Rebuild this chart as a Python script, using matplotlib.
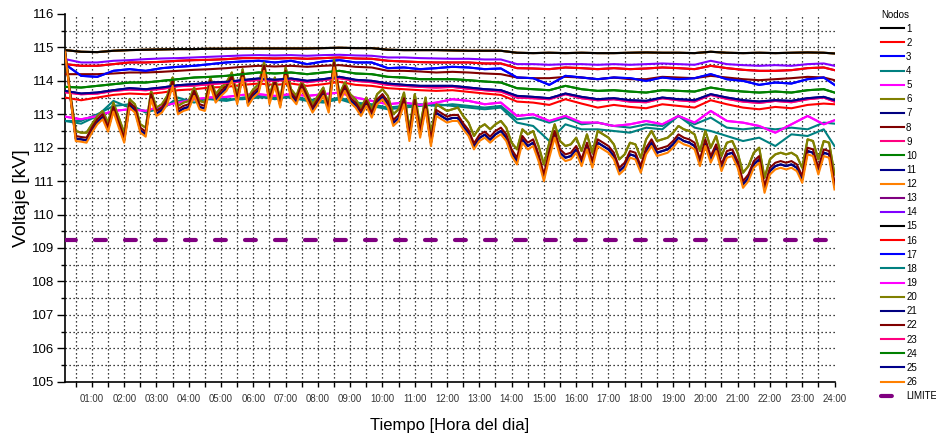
import numpy as np
import matplotlib
matplotlib.use("Agg")
import matplotlib.pyplot as plt

plt.rcParams['font.family'] = ['Liberation Sans', 'DejaVu Sans']

# Sampling instants in minutes after midnight
minutes_fine = np.arange(10, 1441, 10)                     # 10-minute records
minutes_coarse = np.r_[np.arange(10, 1421, 30), 1440]      # 30-minute records

# ---- node voltages [kV], 10-minute records (feeder end nodes) ----
v_orange = [114.85, 113.5, 112.2, 112.18, 112.15, 112.45, 112.7, 112.85, 112.48, 113.08,
            112.6, 112.15, 113.2, 113.05, 112.45, 112.33, 113.45, 112.95, 113.05, 113.3,
            113.85, 113.0, 113.1, 113.15, 113.55, 113.15, 113.1, 113.85, 113.35, 113.55,
            113.7, 114.0, 113.3, 114.1, 113.25, 113.5, 113.65, 114.3, 113.3, 113.85,
            113.2, 114.15, 113.5, 113.3, 113.75, 113.4, 113.05, 113.3, 113.55, 113.05,
            114.4, 113.35, 113.7, 113.35, 113.2, 112.95, 113.25, 112.9, 113.3, 113.45,
            113.2, 112.65, 112.8, 113.3, 112.2, 113.25, 112.3, 113.15, 112.05, 112.95,
            112.85, 112.75, 112.8, 112.8, 112.55, 112.35, 111.95, 112.2, 112.3, 112.15,
            112.3, 112.4, 112.2, 111.75, 111.5, 112.15, 111.95, 112.05, 111.6, 111.0,
            111.7, 112.3, 111.75, 111.6, 111.65, 111.85, 111.45, 111.95, 111.4, 112.05,
            111.95, 111.85, 111.65, 111.2, 111.35, 111.7, 111.65, 111.25, 111.8, 112.05,
            111.75, 111.8, 111.85, 112.0, 112.2, 112.1, 112.05, 111.95, 111.45, 112.05,
            111.55, 111.9, 111.3, 111.7, 111.75, 111.4, 110.8, 111.0, 111.4, 111.55,
            110.65, 111.2, 111.35, 111.4, 111.35, 111.4, 111.3, 110.95, 111.8, 111.75,
            111.2, 111.75, 111.7, 110.75]

v_olive = [114.9, 113.6, 112.5, 112.45, 112.45, 112.7, 112.95, 113.1, 112.75, 113.35,
           112.9, 112.45, 113.45, 113.3, 112.7, 112.6, 113.7, 113.2, 113.3, 113.55,
           114.1, 113.25, 113.35, 113.4, 113.8, 113.4, 113.35, 114.1, 113.6, 113.8,
           113.95, 114.25, 113.55, 114.35, 113.5, 113.75, 113.9, 114.55, 113.55, 114.1,
           113.45, 114.4, 113.75, 113.55, 114.0, 113.65, 113.3, 113.55, 113.8, 113.3,
           114.65, 113.6, 113.95, 113.6, 113.45, 113.2, 113.5, 113.15, 113.6, 113.75,
           113.55, 113.0, 113.15, 113.65, 112.55, 113.6, 112.65, 113.5, 112.4, 113.3,
           113.2, 113.1, 113.15, 113.2, 112.95, 112.75, 112.35, 112.6, 112.7, 112.55,
           112.7, 112.8, 112.6, 112.15, 111.95, 112.55, 112.4, 112.5, 112.05, 111.5,
           112.15, 112.7, 112.2, 112.05, 112.1, 112.3, 111.9, 112.4, 111.85, 112.5,
           112.4, 112.3, 112.1, 111.65, 111.8, 112.15, 112.1, 111.7, 112.25, 112.5,
           112.2, 112.25, 112.3, 112.45, 112.65, 112.55, 112.5, 112.4, 111.9, 112.5,
           112.0, 112.35, 111.75, 112.15, 112.2, 111.85, 111.25, 111.45, 111.85, 112.0,
           111.1, 111.65, 111.8, 111.85, 111.8, 111.85, 111.75, 111.4, 112.25, 112.2,
           111.65, 112.2, 112.15, 111.2]

v_maroon_lo = [114.88, 113.55, 112.35, 112.32, 112.3, 112.6, 112.85, 113.0, 112.62, 113.22,
               112.75, 112.3, 113.35, 113.2, 112.6, 112.48, 113.6, 113.1, 113.2, 113.45,
               114.0, 113.15, 113.25, 113.3, 113.7, 113.3, 113.25, 114.0, 113.5, 113.7,
               113.85, 114.15, 113.45, 114.25, 113.4, 113.65, 113.8, 114.45, 113.45, 114.0,
               113.35, 114.3, 113.65, 113.45, 113.9, 113.55, 113.2, 113.45, 113.7, 113.2,
               114.55, 113.5, 113.85, 113.5, 113.35, 113.1, 113.4, 113.05, 113.45, 113.6,
               113.38, 112.83, 112.98, 113.48, 112.38, 113.43, 112.48, 113.33, 112.23, 113.13,
               113.03, 112.93, 112.98, 112.98, 112.73, 112.53, 112.13, 112.38, 112.48, 112.33,
               112.5, 112.6, 112.4, 111.95, 111.7, 112.35, 112.15, 112.25, 111.8, 111.2,
               111.9, 112.5, 111.95, 111.8, 111.85, 112.05, 111.65, 112.15, 111.6, 112.25,
               112.15, 112.05, 111.85, 111.4, 111.55, 111.9, 111.85, 111.45, 112.0, 112.25,
               111.95, 112.0, 112.05, 112.2, 112.4, 112.3, 112.25, 112.15, 111.65, 112.25,
               111.75, 112.1, 111.5, 111.9, 111.95, 111.6, 111.0, 111.2, 111.6, 111.75,
               110.85, 111.4, 111.55, 111.6, 111.55, 111.6, 111.5, 111.15, 112.0, 111.95,
               111.4, 111.95, 111.9, 110.95]

v_navy_lo = [114.86, 113.52, 112.27, 112.25, 112.22, 112.52, 112.77, 112.92, 112.55, 113.15,
             112.67, 112.22, 113.27, 113.12, 112.52, 112.4, 113.52, 113.02, 113.12, 113.37,
             113.92, 113.07, 113.17, 113.22, 113.62, 113.22, 113.17, 113.92, 113.42, 113.62,
             113.77, 114.07, 113.37, 114.17, 113.32, 113.57, 113.72, 114.37, 113.37, 113.92,
             113.27, 114.22, 113.57, 113.37, 113.82, 113.47, 113.12, 113.37, 113.62, 113.12,
             114.47, 113.42, 113.77, 113.42, 113.27, 113.02, 113.32, 112.97, 113.37, 113.52,
             113.29, 112.74, 112.89, 113.39, 112.29, 113.34, 112.39, 113.24, 112.14, 113.04,
             112.94, 112.84, 112.89, 112.89, 112.64, 112.44, 112.04, 112.29, 112.39, 112.24,
             112.4, 112.5, 112.3, 111.85, 111.6, 112.25, 112.05, 112.15, 111.7, 111.1,
             111.8, 112.4, 111.85, 111.7, 111.75, 111.95, 111.55, 112.05, 111.5, 112.15,
             112.05, 111.95, 111.75, 111.3, 111.45, 111.8, 111.75, 111.35, 111.9, 112.15,
             111.85, 111.9, 111.95, 112.1, 112.3, 112.2, 112.15, 112.05, 111.55, 112.15,
             111.65, 112.0, 111.4, 111.8, 111.85, 111.5, 110.9, 111.1, 111.5, 111.65,
             110.75, 111.3, 111.45, 111.5, 111.45, 111.5, 111.4, 111.05, 111.9, 111.85,
             111.3, 111.85, 111.8, 110.85]

# ---- node voltages [kV], 30-minute records ----
v_black = [114.92, 114.87, 114.86, 114.9, 114.92, 114.93, 114.94, 114.95, 114.95, 114.96,
           114.96, 114.97, 114.97, 114.97, 114.97, 114.97, 114.98, 114.99, 114.98, 114.98,
           114.93, 114.92, 114.92, 114.92, 114.91, 114.9, 114.9, 114.9, 114.84, 114.83,
           114.84, 114.83, 114.84, 114.83, 114.83, 114.84, 114.85, 114.84, 114.84, 114.83,
           114.87, 114.84, 114.83, 114.84, 114.83, 114.84, 114.85, 114.84, 114.82]

v_violet = [114.65, 114.55, 114.55, 114.6, 114.62, 114.65, 114.67, 114.68, 114.7, 114.72,
            114.74, 114.76, 114.77, 114.76, 114.77, 114.75, 114.77, 114.78, 114.76, 114.75,
            114.7, 114.7, 114.68, 114.67, 114.66, 114.66, 114.64, 114.64, 114.5, 114.5,
            114.48, 114.5, 114.5, 114.48, 114.5, 114.48, 114.5, 114.52, 114.5, 114.48,
            114.6, 114.5, 114.47, 114.45, 114.47, 114.45, 114.5, 114.52, 114.45]

v_red_hi = [114.5, 114.45, 114.45, 114.5, 114.55, 114.55, 114.57, 114.6, 114.62, 114.63,
            114.65, 114.68, 114.68, 114.67, 114.68, 114.66, 114.68, 114.7, 114.67, 114.66,
            114.6, 114.58, 114.56, 114.55, 114.55, 114.55, 114.52, 114.52, 114.38, 114.37,
            114.35, 114.4, 114.38, 114.35, 114.38, 114.35, 114.37, 114.4, 114.38, 114.35,
            114.45, 114.38, 114.33, 114.3, 114.3, 114.32, 114.38, 114.4, 114.32]

v_blue = [114.5, 114.15, 114.12, 114.3, 114.35, 114.3, 114.38, 114.42, 114.45, 114.5,
          114.55, 114.58, 114.6, 114.55, 114.6, 114.5, 114.58, 114.62, 114.55, 114.55,
          114.38, 114.4, 114.35, 114.38, 114.42, 114.4, 114.35, 114.37, 114.1, 114.08,
          113.88, 114.15, 114.1, 114.05, 114.1, 114.08, 114.0, 114.1, 114.05, 114.08,
          114.2, 114.05, 114.0, 113.88, 113.95, 113.92, 114.05, 114.1, 113.88]

v_maroon_hi = [114.2, 114.2, 114.2, 114.22, 114.25, 114.25, 114.27, 114.3, 114.33, 114.35,
               114.38, 114.42, 114.45, 114.43, 114.45, 114.42, 114.45, 114.47, 114.42, 114.4,
               114.3, 114.3, 114.28, 114.25, 114.27, 114.25, 114.22, 114.2, 114.1, 114.08,
               114.08, 114.12, 114.1, 114.05, 114.1, 114.05, 114.05, 114.12, 114.1, 114.08,
               114.15, 114.1, 114.05, 114.02, 114.05, 114.08, 114.12, 114.1, 114.02]

v_green = [113.82, 113.8, 113.85, 113.9, 113.95, 113.95, 114.0, 114.05, 114.1, 114.12,
           114.15, 114.2, 114.25, 114.22, 114.25, 114.2, 114.25, 114.3, 114.22, 114.2,
           114.12, 114.1, 114.05, 114.05, 114.05, 114.02, 113.98, 113.95, 113.78, 113.75,
           113.72, 113.85, 113.75, 113.7, 113.72, 113.68, 113.65, 113.72, 113.7, 113.68,
           113.8, 113.72, 113.68, 113.65, 113.68, 113.65, 113.72, 113.75, 113.65]

v_navy_hi = [113.7, 113.62, 113.65, 113.72, 113.78, 113.75, 113.8, 113.87, 113.9, 113.95,
             113.97, 114.02, 114.07, 114.03, 114.07, 114.0, 114.05, 114.12, 114.03, 114.0,
             113.92, 113.88, 113.85, 113.85, 113.85, 113.8, 113.75, 113.72, 113.55, 113.52,
             113.48, 113.62, 113.52, 113.45, 113.48, 113.42, 113.4, 113.5, 113.45, 113.42,
             113.6, 113.5, 113.42, 113.38, 113.42, 113.4, 113.48, 113.52, 113.42]

v_pink = [113.66, 113.6, 113.62, 113.7, 113.74, 113.72, 113.76, 113.84, 113.86, 113.9,
          113.94, 113.98, 114.03, 114.0, 114.04, 113.96, 114.02, 114.08, 114.0, 113.96,
          113.88, 113.85, 113.82, 113.8, 113.82, 113.76, 113.72, 113.68, 113.5, 113.48,
          113.45, 113.6, 113.48, 113.42, 113.45, 113.38, 113.36, 113.48, 113.42, 113.38,
          113.58, 113.46, 113.38, 113.34, 113.4, 113.36, 113.45, 113.5, 113.38]

v_red_lo = [113.5, 113.42, 113.5, 113.58, 113.62, 113.6, 113.65, 113.72, 113.75, 113.8,
            113.82, 113.88, 113.92, 113.88, 113.92, 113.85, 113.9, 113.97, 113.88, 113.85,
            113.78, 113.75, 113.72, 113.7, 113.72, 113.67, 113.62, 113.58, 113.38, 113.35,
            113.28, 113.45, 113.32, 113.2, 113.28, 113.22, 113.18, 113.3, 113.25, 113.2,
            113.42, 113.3, 113.2, 113.15, 113.22, 113.18, 113.28, 113.32, 113.3]

v_magenta = [112.93, 112.85, 112.95, 113.1, 113.15, 113.1, 113.25, 113.35, 113.45, 113.5,
             113.52, 113.58, 113.6, 113.55, 113.6, 113.55, 113.6, 113.65, 113.5, 113.4,
             113.3, 113.35, 113.28, 113.35, 113.45, 113.4, 113.3, 113.35, 112.95, 113.0,
             112.8, 112.95, 112.75, 112.75, 112.65, 112.7, 112.8, 112.7, 112.95, 112.75,
             113.1, 112.8, 112.75, 112.65, 112.45, 112.7, 112.95, 112.7, 112.82]

v_teal_a = [112.8, 112.72, 112.95, 113.4, 113.2, 113.1, 113.15, 113.5, 113.35, 113.5,
            113.45, 113.45, 113.5, 113.5, 113.5, 113.4, 113.35, 113.45, 113.3, 113.25,
            113.15, 113.2, 113.25, 113.3, 113.25, 113.2, 113.15, 113.2, 112.75, 112.65,
            112.2, 112.7, 112.55, 112.55, 112.5, 112.45, 112.6, 112.55, 112.95, 112.6,
            112.5, 112.35, 112.2, 112.3, 112.05, 112.4, 112.35, 112.55, 112.05]

v_teal_b = [112.8, 112.8, 113.0, 113.25, 113.3, 113.05, 113.2, 113.4, 113.45, 113.45,
            113.4, 113.5, 113.55, 113.45, 113.55, 113.45, 113.4, 113.5, 113.35, 113.3,
            113.2, 113.25, 113.3, 113.25, 113.3, 113.25, 113.2, 113.25, 112.85, 112.9,
            112.75, 112.9, 112.7, 112.75, 112.65, 112.6, 112.7, 112.65, 112.95, 112.7,
            112.9, 112.6, 112.55, 112.6, 112.55, 112.6, 112.55, 112.75, 112.72]

limit_kv = 109.25   # 0.95 p.u. of 115 kV

hour_labels = [f"{h:02d}:00" for h in range(1, 25)]

# node label -> (values, sampling, colour)
F, C = "fine", "coarse"
nodes = [
    ("1", v_black, C, "#000000"),
    ("2", v_red_lo, C, "#FF0000"),
    ("3", v_blue, C, "#0000FF"),
    ("4", v_teal_a, C, "#008080"),
    ("5", v_magenta, C, "#FF00FF"),
    ("6", v_olive, F, "#808000"),
    ("7", v_navy_lo, F, "#000080"),
    ("8", v_maroon_hi, C, "#800000"),
    ("9", v_pink, C, "#FF0080"),
    ("10", v_green, C, "#008000"),
    ("11", v_navy_hi, C, "#00008B"),
    ("12", v_black, C, "#FF8000"),
    ("13", v_red_hi, C, "#800080"),
    ("14", v_violet, C, "#8000FF"),
    ("15", v_black, C, "#000000"),
    ("16", v_red_hi, C, "#FF0000"),
    ("17", v_blue, C, "#0000FF"),
    ("18", v_teal_b, C, "#008080"),
    ("19", v_magenta, C, "#FF00FF"),
    ("20", v_olive, F, "#808000"),
    ("21", v_navy_lo, F, "#000080"),
    ("22", v_maroon_lo, F, "#800000"),
    ("23", v_pink, C, "#FF0080"),
    ("24", v_green, C, "#008000"),
    ("25", v_navy_hi, C, "#00008B"),
    ("26", v_orange, F, "#FF8000"),
]

W, H = 936, 438
fig = plt.figure(figsize=(W / 100, H / 100), dpi=100)
ax = fig.add_axes([65 / W, 1 - 381.7 / H, 769.5 / W, 367.7 / H])

t_fine = minutes_fine / 60.0
t_coarse = minutes_coarse / 60.0

for label, vals, res, col in nodes:
    t = t_fine if res == F else t_coarse
    ax.plot(t, vals, color=col, lw=1.5, label=label, zorder=3)

ax.plot([t_fine[0], t_fine[-1]], [limit_kv, limit_kv], color="#800080", lw=3.0,
        linestyle=(0, (2.6, 4.6)), dash_capstyle="round", label="LIMITE", zorder=3)

# dotted grid every half hour and every 0.5 kV
grid_kw = dict(color="black", lw=0.9, linestyle=(0, (1, 2.2)), zorder=1)
for h in np.arange(0.5, 24, 0.5):
    ax.axvline(h, **grid_kw)
for v in np.arange(105.5, 116, 0.5):
    ax.axhline(v, **grid_kw)

ax.set_xlim(1 / 6, 24)
ax.set_ylim(105, 116)

ax.set_xticks(np.arange(1, 25))
ax.set_xticklabels(hour_labels)
ax.set_xticks(np.arange(0.5, 24, 1.0), minor=True)
ax.set_yticks(np.arange(105, 117, 1))
ax.set_yticks(np.arange(105.5, 116, 1.0), minor=True)

ax.tick_params(axis="x", which="both", direction="out", length=3.8, width=1.0,
               labelsize=6.9, pad=5, labelcolor="#333333")
ax.tick_params(axis="y", which="major", direction="out", length=5.5, width=1.0,
               labelsize=9.5, pad=2)
ax.tick_params(axis="y", which="minor", direction="out", length=2.6, width=1.0)

for side in ("top", "right"):
    ax.spines[side].set_visible(False)
for side in ("left", "bottom"):
    ax.spines[side].set_linewidth(1.2)

ax.set_ylabel("Voltaje [kV]", fontsize=14, labelpad=2)
ax.set_xlabel("Tiempo [Hora del dia]", fontsize=12, labelpad=10)

handles, labels = ax.get_legend_handles_labels()
fig.legend(handles, labels, title="Nodos", loc="upper left",
           bbox_to_anchor=(881 / W, 1 - 9.5 / H), frameon=False,
           fontsize=7, title_fontsize=7, alignment="left",
           handlelength=2.33, handletextpad=0.25, labelspacing=0.425,
           borderpad=0, borderaxespad=0)

fig.savefig("out.png", dpi=100)
